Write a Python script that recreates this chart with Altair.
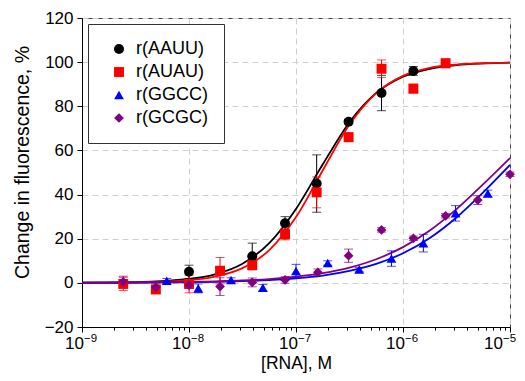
import altair as alt
import pandas as pd

names = ["r(AAUU)", "r(AUAU)", "r(GGCC)", "r(GCGC)"]
colors = ["#000000", "#ff0000", "#0000ff", "#800080"]
shapes = ["circle", "square", "triangle-up", "diamond"]
marker_sizes = [100, 95, 130, 140]

# measured points: concentration (M), change in fluorescence (%), error (%)
conc_aauu = [1e-8, 3.9e-8, 7.9e-8, 1.56e-7, 3.1e-7, 6.3e-7, 1.25e-6]
y_aauu = [5, 12, 27, 45, 73, 86, 96]
err_aauu = [3, 6, 3, 13, 1, 8, 2]

conc_auau = [2.43e-9, 4.9e-9, 1e-8, 1.95e-8, 3.9e-8, 7.9e-8, 1.56e-7, 3.1e-7, 6.3e-7, 1.25e-6, 2.5e-6]
y_auau = [-0.5, -3, -0.5, 5.5, 8, 22, 41, 66, 97, 88, 99.5]
err_auau = [3, 1.5, 4, 6, 2, 2.5, 7, 2, 4, 2, 2]

conc_ggcc = [6.2e-9, 1.22e-8, 2.47e-8, 4.9e-8, 1e-7, 1.98e-7, 3.9e-7, 7.8e-7, 1.55e-6, 3.1e-6, 6.2e-6]
y_ggcc = [1, -2.5, 1.3, -2.2, 5.4, 9, 6, 11, 18, 31.5, 40.5]
err_ggcc = [1, 2, 1, 1.5, 3, 1, 1, 3.5, 4, 3.5, 1.5]

conc_gcgc = [2.43e-9, 4.9e-9, 1e-8, 1.95e-8, 3.9e-8, 7.9e-8, 1.6e-7, 3.1e-7, 6.3e-7, 1.25e-6, 2.5e-6, 5e-6, 1e-5]
y_gcgc = [0.5, -2, -1, -1.7, 0.2, 1.3, 4.8, 12.3, 24, 20.2, 30.4, 37.5, 49.2]
err_gcgc = [2.5, 1.5, 1.5, 4, 2, 1.5, 1.5, 3, 1, 1, 1, 2, 1]

# fitted curves
conc_curve = [1e-9, 3.16e-9, 1e-8, 1.78e-8, 3.16e-8, 5.62e-8, 1e-7, 1.78e-7, 3.16e-7,
              5.62e-7, 1e-6, 1.78e-6, 3.16e-6, 5.62e-6, 1e-5]
fit_aauu = [0.06, 0.34, 1.75, 3.96, 8.7, 18, 33.5, 53.7, 72.8, 86, 93.4, 97.0, 98.7, 99.4, 99.75]
fit_auau = [0.03, 0.2, 1.2, 2.9, 6.7, 14.8, 29.8, 51, 71.7, 86, 93.8, 97.4, 98.9, 99.5, 99.8]
fit_ggcc = [0.04, 0.1, 0.28, 0.46, 0.76, 1.25, 2.05, 3.3, 5.4, 8.6, 13.4, 20.3, 29.6, 41, 53.4]
fit_gcgc = [0.06, 0.16, 0.4, 0.68, 1.06, 1.7, 2.8, 4.4, 6.9, 10.7, 16.2, 23.7, 33.4, 44.7, 56.6]

# x tick labels (decades)
decades = [1e-9, 1e-8, 1e-7, 1e-6, 1e-5]
decade_base = ["10", "10", "10", "10", "10"]
decade_exp = ["−9", "−8", "−7", "−6", "−5"]

series = [(conc_aauu, y_aauu, err_aauu, fit_aauu),
          (conc_auau, y_auau, err_auau, fit_auau),
          (conc_ggcc, y_ggcc, err_ggcc, fit_ggcc),
          (conc_gcgc, y_gcgc, err_gcgc, fit_gcgc)]

pts = []
for name, (cs, ys, es, _) in zip(names, series):
    for c, y, e in zip(cs, ys, es):
        pts.append({"conc": c, "val": y, "lo": y - e, "hi": y + e, "series": name})
pts = pd.DataFrame(pts)

lab = pd.DataFrame({"conc": decades, "base": decade_base, "exp": decade_exp})
lab["last"] = lab["conc"] >= 1e-5

FONT = "Liberation Sans"
minor_vals = [m * 10.0 ** d for d in range(-9, -5) for m in range(1, 10)] + [1e-5]
is_decade = "abs(log(datum.value)/LN10 - round(log(datum.value)/LN10)) < 0.01"

x_scale = alt.Scale(type="log", domain=[1e-9, 1e-5], nice=False)
y_scale = alt.Scale(domain=[-20, 120], nice=False)

x_axis = alt.Axis(
    values=minor_vals,
    title="[RNA], M",
    labels=False,
    tickSize={"condition": {"test": is_decade, "value": 5}, "value": 3},
    gridOpacity={"condition": {"test": is_decade, "value": 1}, "value": 0},
    titleFontSize=17.5, titleFont=FONT,
    titleColor="black", titleFontWeight="normal",
    domainColor="black", tickColor="black", gridColor="#cfcfcf", gridDash=[6, 4],
    titlePadding=22,
)
y_axis = alt.Axis(
    values=[-20, 0, 20, 40, 60, 80, 100, 120],
    title="Change in fluorescence, %",
    labelFontSize=17, titleFontSize=19.5, labelFont=FONT, titleFont=FONT,
    labelColor="black", titleColor="black", titleFontWeight="normal",
    domainColor="black", tickColor="black", gridColor="#cfcfcf", gridDash=[6, 4],
    tickSize=5, labelPadding=4, titlePadding=12, titleY=144,
)


def X():
    return alt.X("conc:Q", scale=x_scale, axis=x_axis)


def Y(f):
    return alt.Y(f"{f}:Q", scale=y_scale, axis=y_axis)


layers = []
for i, (name, col) in enumerate(zip(names, colors)):
    fs = series[i][3]
    cdf = pd.DataFrame({"conc": conc_curve, "val": fs})
    layers.append(alt.Chart(cdf).mark_line(strokeWidth=1.8, interpolate="monotone", color=col).encode(
        x=X(), y=Y("val")))
for i, (name, col) in enumerate(zip(names, colors)):
    sub = pts[pts["series"] == name]
    layers.append(alt.Chart(sub).mark_rule(strokeWidth=1, color=col).encode(
        x=X(), y=Y("lo"), y2="hi:Q"))
    for fld in ["lo", "hi"]:
        layers.append(alt.Chart(sub).mark_tick(orient="horizontal", size=9, thickness=1, color=col).encode(
            x=X(), y=Y(fld)))

leg = alt.Legend(
    title=None, orient="top-left", offset=6,
    strokeColor="#333333", fillColor="white", padding=16,
    labelFontSize=18, labelFont=FONT, labelColor="black",
    symbolSize=120, symbolOffset=6, labelOffset=8, rowPadding=5,
)
points = alt.Chart(pts).mark_point(filled=True, opacity=1).encode(
    x=X(),
    y=Y("val"),
    color=alt.Color("series:N", scale=alt.Scale(domain=names, range=colors), legend=leg),
    shape=alt.Shape("series:N", scale=alt.Scale(domain=names, range=shapes), legend=leg),
    size=alt.Size("series:N", scale=alt.Scale(domain=names, range=marker_sizes), legend=None),
)
layers.append(points)

for last, dxv in [(False, 2), (True, -7)]:
    flt = "datum.last" if last else "!datum.last"
    layers.append(alt.Chart(lab).transform_filter(flt).mark_text(
        font=FONT, fontSize=17, align="right", baseline="alphabetic", dx=dxv, dy=22, color="black"
    ).encode(x=X(), y=alt.datum(-20), text="base:N"))
    layers.append(alt.Chart(lab).transform_filter(flt).mark_text(
        font=FONT, fontSize=11.5, align="left", baseline="alphabetic", dx=dxv, dy=15, color="black"
    ).encode(x=X(), y=alt.datum(-20), text="exp:N"))

chart = alt.layer(*layers).properties(
    width=428, height=309,
    autosize=alt.AutoSizeParams(type="none"),
    padding={"left": 74, "top": 10, "right": 7, "bottom": 46},
    background="white",
).configure_view(stroke="#444444", strokeWidth=1)

chart.save("out.html", embed_options={"renderer": "svg", "actions": False})
